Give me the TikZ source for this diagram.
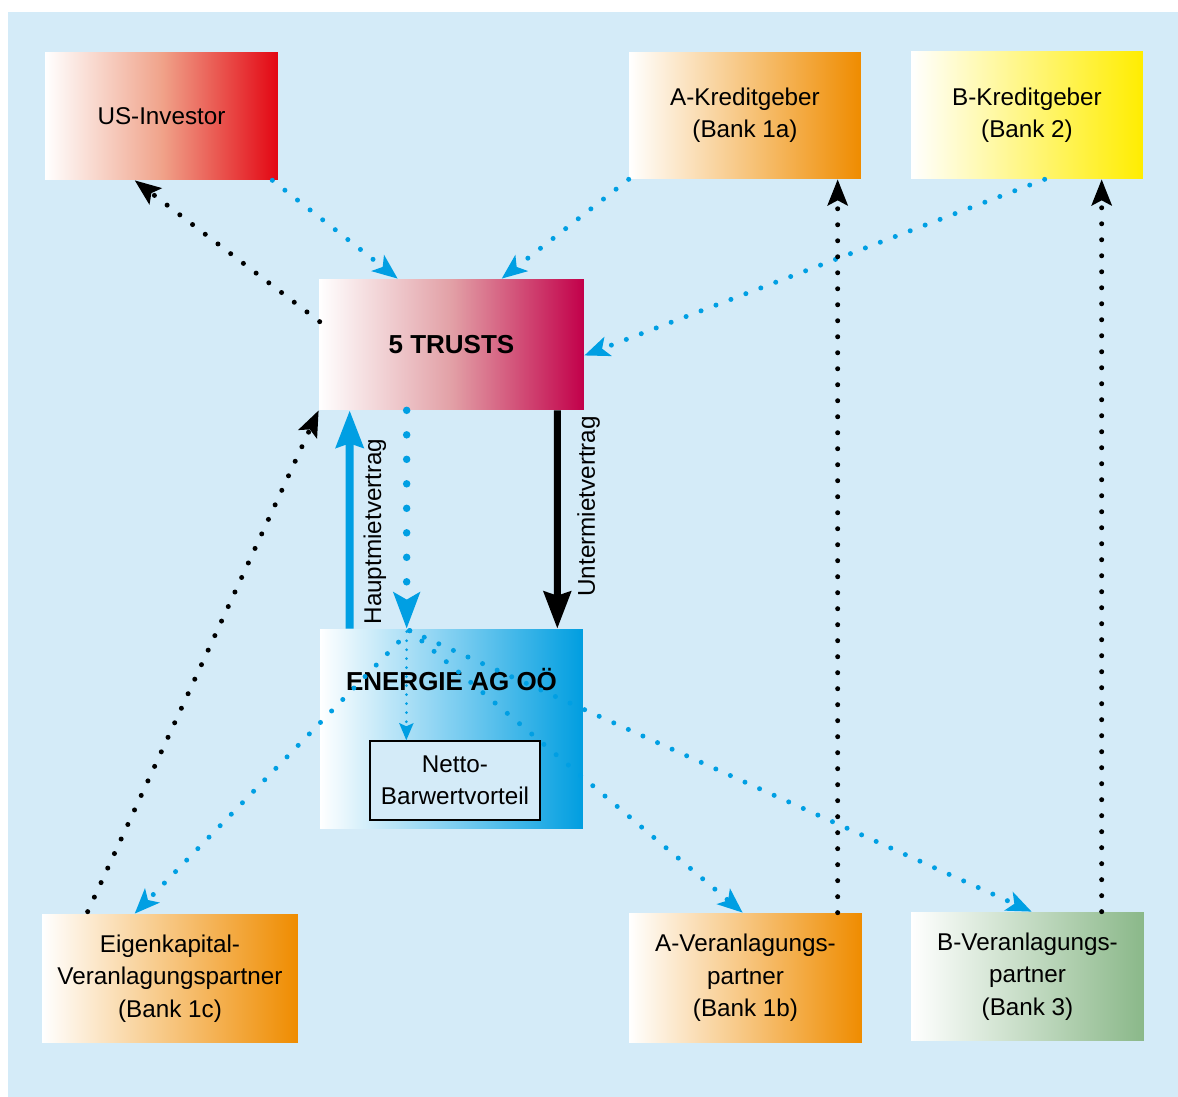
\documentclass[tikz,border=0pt]{standalone}
\usepackage{fontspec}
\setmainfont{Liberation Sans}
\usepackage{xcolor}
\usetikzlibrary{arrows.meta,calc,positioning}
\definecolor{bgblue}{HTML}{D4EBF8}
\definecolor{lineblue}{HTML}{009FE3}
\definecolor{invred}{HTML}{E30613}
\definecolor{invmid}{HTML}{F0A38A}
\definecolor{bankorange}{HTML}{EF8C00}
\definecolor{bankyellow}{HTML}{FFED00}
\definecolor{trustred}{HTML}{C2004A}
\definecolor{trustmid}{HTML}{E2A0A6}
\definecolor{energyblue}{HTML}{009EE0}
\definecolor{energymid}{HTML}{80CFF1}
\definecolor{bankgreen}{HTML}{8AB889}
\tikzset{fontscale/.style = {font=\fontsize{13.8}{18.4}\selectfont}}
\tikzset{fontbold/.style = {font=\fontsize{14.8}{18}\selectfont\bfseries}}
\tikzstyle{party}=[rectangle, inner sep=0pt, align=center, fontscale, shading=axis, left color=white]
\tikzstyle{legend_normal}=[rectangle, inner sep=1pt, fontbold]
\tikzstyle{rotlabel}=[rectangle, rotate=90, anchor=north, inner sep=0.2cm, text=black, fontscale]

\begin{document}
\begin{tikzpicture}[x=0.02cm, y=-0.02cm,
  bluedot/.style={lineblue, line width=0.1cm, line cap=round, dash pattern=on 0pt off 0.32cm,
    -{Stealth[length=0.5cm, width=0.4cm, inset=0.12cm]}},
  blackdot/.style={black, line width=0.1cm, line cap=round, dash pattern=on 0pt off 0.32cm,
    -{Stealth[length=0.52cm, width=0.4cm, inset=0.1cm]}},
  bigdot/.style={lineblue, line width=0.15cm, line cap=round, dash pattern=on 0pt off 0.49cm,
    -{Stealth[length=0.72cm, width=0.52cm, inset=0.14cm]}},
  smalldot/.style={lineblue, line width=0.06cm, line cap=round, dash pattern=on 0pt off 0.18cm,
    -{Stealth[length=0.34cm, width=0.28cm, inset=0.06cm]}},
  mainlease/.style={lineblue, line width=0.16cm, -{Stealth[length=0.74cm, width=0.54cm, inset=0.08cm]}},
  sublease/.style={black, line width=0.14cm, -{Stealth[length=0.74cm, width=0.54cm, inset=0.08cm]}}]

\useasboundingbox (0,0) rectangle (1178,1097);
\fill[bgblue] (8,12) rectangle (1178,1097);

% parties
\node[party, minimum width=4.66cm, minimum height=2.56cm, right color=invred, middle color=invmid] (inv) at (161.5,116) {US-Investor};
\node[party, minimum width=4.64cm, minimum height=2.54cm, right color=bankorange] (akred) at (745,115.5) {A-Kreditgeber\\(Bank 1a)};
\node[party, minimum width=4.64cm, minimum height=2.56cm, right color=bankyellow] (bkred) at (1027,115) {B-Kreditgeber\\(Bank 2)};
\node[party, minimum width=5.3cm, minimum height=2.62cm, right color=trustred, middle color=trustmid, fontbold] (trusts) at (451.5,344.5) {5 TRUSTS};
\node[party, minimum width=5.26cm, minimum height=4cm, right color=energyblue, middle color=energymid] (energie) at (451.5,729) {};
\node[draw, fill=bgblue, line width=0.8pt, inner sep=0pt, align=center, fontscale,
  minimum width=3.4cm, minimum height=1.58cm] (netto) at (455,780.5) {Netto-\\Barwertvorteil};
\node[party, minimum width=5.12cm, minimum height=2.58cm, right color=bankorange] (eigen) at (170,978.5) {Eigenkapital-\\Veranlagungspartner\\(Bank 1c)};
\node[party, minimum width=4.66cm, minimum height=2.6cm, right color=bankorange] (aver) at (745.5,978) {A-Veranlagungs-\\partner\\(Bank 1b)};
\node[party, minimum width=4.66cm, minimum height=2.58cm, right color=bankgreen] (bver) at (1027.5,976.5) {B-Veranlagungs-\\partner\\(Bank 3)};

% Legends
\node[legend_normal] (energietitle) at (451.5,680) {ENERGIE AG OÖ};

% leases
\draw[mainlease] ($(energie.north west)+(30,0)$) -- node[rotlabel, pos=0.445] {Hauptmietvertrag} ($(trusts.south west)+(31,0)$);
\draw[sublease] ($(trusts.south east)+(-27,0)$) -- node[rotlabel, pos=0.44, inner sep=0.33cm] {Untermietvertrag} ($(energie.north east)+(-26,0)$);
\draw[bigdot] ($(trusts.south west)+(88,0)$) -- ($(energie.north west)+(87,0)$);

% payments into the trusts
\draw[bluedot] ($(inv.south east)+(-6,0)$) -- ($(trusts.north west)+(79,0)$);
\draw[bluedot] (akred.south west) -- ($(trusts.north west)+(183,0)$);
\draw[bluedot] ($(bkred.south west)+(134,0)$) -- ($(trusts.east)+(0,11)$);

% payments out of the energie node
\coordinate (hub) at ($(energie.north west)+(90,2)$);
\draw[smalldot] ($(energie.north west)+(87,3)$) -- ($(netto.north west)+(37,0)$);
\draw[bluedot] (hub) -- ($(eigen.north west)+(93,0)$);
\draw[bluedot] (hub) -- ($(aver.north west)+(114,0)$);
\draw[bluedot] (hub) -- ($(bver.north west)+(121,0)$);

% back payments
\draw[blackdot] ($(trusts.north west)+(1,43)$) -- ($(inv.south west)+(90,0)$);
\draw[blackdot] ($(aver.north west)+(209,0)$) -- ($(akred.south west)+(209,0)$);
\draw[blackdot] ($(bver.north west)+(191,0)$) -- ($(bkred.south west)+(191,0)$);
\draw[blackdot] ($(eigen.north west)+(46,-2)$) -- (trusts.south west);
\end{tikzpicture}
\end{document}
